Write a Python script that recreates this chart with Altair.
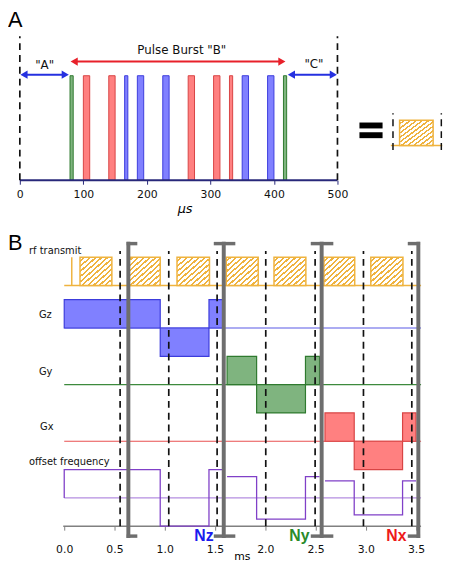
import altair as alt
import pandas as pd

# ---------------- Panel A data (time in microseconds) ----------------
pulse_start = [79, 100, 140, 165, 185, 225, 265, 305, 330, 350, 390, 415]
pulse_end = [84, 110, 150, 170, 195, 235, 275, 315, 335, 360, 400, 420]
pulse_axis = ["y", "x", "x", "z", "z", "z", "x", "x", "x", "z", "z", "y"]
pulse_amp = 1.0
a_ticks = [0, 100, 200, 300, 400, 500]
a_bounds = [0, 500]
arrow_names = ['"A"', 'Pulse Burst "B"', '"C"']
arrow_from = [0, 79, 421]
arrow_to = [78, 419, 500]
arrow_level = [1.01, 1.135, 1.01]
arrow_label_x = [39, 255, 463]
arrow_label_y = [1.10, 1.245, 1.11]

# ---------------- Panel B data (time in milliseconds) ----------------
b_ticks = [0.0, 0.5, 1.0, 1.5, 2.0, 2.5, 3.0, 3.5]
rf_start = [0.157, 0.638, 1.122, 1.612, 2.087, 2.584, 3.05]
rf_end = [0.474, 0.955, 1.445, 1.93, 2.404, 2.89, 3.37]
rf_spike = [0.075]
dashed_t = [0.556, 1.04, 1.521, 2.005, 2.496, 2.977, 3.458]
bracket_t = [0.638, 1.587, 2.561, 3.523]
bracket_cap_l = [0.638, 1.505, 2.47, 3.435]
bracket_cap_r = [0.71, 1.685, 2.66, 3.523]
trace_names = ["rf transmit", "Gz", "Gy", "Gx", "offset frequency"]
trace_base = [8.5, 7.0, 5.0, 3.0, 1.0]
grad_axis = ["z", "z", "z", "y", "y", "y", "x", "x", "x"]
grad_start = [0.0, 0.955, 1.44, 1.62, 1.914, 2.40, 2.594, 2.885, 3.366]
grad_end = [0.955, 1.44, 1.577, 1.914, 2.40, 2.54, 2.885, 3.366, 3.50]
grad_sign = [1, -1, 1, 1, -1, 1, 1, -1, 1]
off_seg = [0, 0, 0, 0, 0, 1, 1, 1, 1, 2, 2, 2, 2]
off_t = [0.0, 0.0, 0.955, 1.44, 1.577, 1.62, 1.914, 2.40, 2.54, 2.594, 2.885, 3.366, 3.50]
off_level = [0.0, 1.0, -1.0, 1.0, 1.0, 0.75, -0.75, 0.75, 0.75, 0.6, -0.6, 0.6, 0.6]
n_labels = ["Nz", "Ny", "Nx"]
n_t = [1.39, 2.339, 3.304]

COL = {"x": "#ff8080", "y": "#7fb47f", "z": "#8080ff"}
EDGE = {"x": "#d84444", "y": "#2f7a2f", "z": "#3c3cdc"}
BASE = {"x": "#e85050", "y": "#3d8a3d", "z": "#5a5ae6"}
NCOL = {"Nz": "#1a1aee", "Ny": "#2a8a2a", "Nx": "#ee1a1a"}
ORANGE = "#efb33f"
FONT = "DejaVu Sans"
HFONT = "Liberation Sans"
DASH = [7, 5]

# hatch fill as a striped linear gradient
stops = []
N = 11
for i in range(N):
    a = i / N
    b = (i + 0.6) / N
    c = (i + 1) / N
    stops += [alt.GradientStop(color="#ffffff", offset=a),
              alt.GradientStop(color="#ffffff", offset=b),
              alt.GradientStop(color=ORANGE, offset=b),
              alt.GradientStop(color=ORANGE, offset=c)]
HATCH = alt.LinearGradient(gradient="linear", stops=stops, x1=0, y1=0, x2=1, y2=1)

# ======================= Panel A =======================
XA = alt.Scale(domain=[-18.63, 664.6], nice=False, zero=False)
YA = alt.Scale(domain=[0, 1.604], nice=False, zero=False)
AXA = alt.Axis(values=a_ticks, domain=False, tickColor="#28287a", tickSize=4,
               labelFont=FONT, labelFontSize=11, labelColor="#111", labelPadding=4,
               title="μs", titleFont=FONT, titleFontSize=13, titleFontWeight="normal",
               titleFontStyle="italic", titleX=179, titleY=29, titleBaseline="middle",
               titleAlign="center", grid=False)


def xa(f):
    return alt.X(f, type="quantitative", scale=XA, axis=AXA)


def ya(f):
    return alt.Y(f, type="quantitative", scale=YA, axis=None)


pulses = pd.DataFrame({"s": pulse_start, "e": pulse_end, "ax": pulse_axis,
                       "b": 0.0, "top": pulse_amp})
pulses["fill"] = pulses["ax"].map(COL)
pulses["edge"] = pulses["ax"].map(EDGE)
pulse_layer = alt.Chart(pulses).mark_rect(strokeWidth=1).encode(
    x=xa("s"), x2="e", y=ya("b"), y2="top",
    fill=alt.Fill("fill:N", scale=None), stroke=alt.Stroke("edge:N", scale=None))

base_a = alt.Chart(pd.DataFrame({"s": [a_bounds[0]], "e": [a_bounds[1]], "b": [0.0]})).mark_rule(
    color="#28287a", strokeWidth=2).encode(x=xa("s"), x2="e", y=ya("b"))

dash_a = alt.Chart(pd.DataFrame({"t": a_bounds, "b": 0.0, "top": 1.377})).mark_rule(
    color="#111", strokeWidth=1.7, strokeDash=DASH).encode(x=xa("t"), y=ya("b"), y2="top")

arrows = pd.DataFrame({"name": arrow_names, "s": arrow_from, "e": arrow_to, "lv": arrow_level,
                       "lx": arrow_label_x, "ly": arrow_label_y})
arrows["col"] = ["#2530e0", "#e8202a", "#2530e0"]
arrows["hs"] = arrows["s"] + 6.5
arrows["he"] = arrows["e"] - 6.5
shaft = alt.Chart(arrows).mark_rule(strokeWidth=2).encode(
    x=xa("hs"), x2="he", y=ya("lv"), color=alt.Color("col:N", scale=None))
head_l = alt.Chart(arrows).mark_point(shape="triangle-left", filled=True, size=70, opacity=1).encode(
    x=xa("hs"), y=ya("lv"), color=alt.Color("col:N", scale=None))
head_r = alt.Chart(arrows).mark_point(shape="triangle-right", filled=True, size=70, opacity=1).encode(
    x=xa("he"), y=ya("lv"), color=alt.Color("col:N", scale=None))
arrow_text = alt.Chart(arrows).mark_text(font=FONT, fontSize=12, color="#111", baseline="middle").encode(
    x=xa("lx"), y=ya("ly"), text="name:N")

eq = alt.Chart(pd.DataFrame({"s": [534.6, 534.6], "e": [571.0, 571.0], "lv": [0.524, 0.431]})).mark_rule(
    color="#000", strokeWidth=6).encode(x=xa("s"), x2="e", y=ya("lv"))
mini_base = alt.Chart(pd.DataFrame({"s": [584.0], "e": [665.0], "lv": [0.333]})).mark_rule(
    color=ORANGE, strokeWidth=1.5).encode(x=xa("s"), x2="e", y=ya("lv"))
mini_box = alt.Chart(pd.DataFrame({"s": [597.8], "e": [650.6], "b": [0.333], "top": [0.573]})).mark_rect(
    fill=HATCH, stroke=ORANGE, strokeWidth=1.5).encode(x=xa("s"), x2="e", y=ya("b"), y2="top")
mini_dash = alt.Chart(pd.DataFrame({"t": [587.4, 663.5], "b": 0.29, "top": 0.64})).mark_rule(
    color="#111", strokeWidth=1.5, strokeDash=DASH).encode(x=xa("t"), y=ya("b"), y2="top")

label_a = alt.Chart(pd.DataFrame({"t": [-18.6], "lv": [1.535], "txt": ["A"]})).mark_text(
    font=HFONT, fontSize=22, align="left", baseline="middle", color="#000").encode(
    x=xa("t"), y=ya("lv"), text="txt:N")

panel_a = alt.layer(pulse_layer, base_a, dash_a, shaft, head_l, head_r, arrow_text,
                    eq, mini_base, mini_box, mini_dash, label_a).properties(width=440, height=170)

# ======================= Panel B =======================
XB = alt.Scale(domain=[-0.5594, 3.7586], nice=False, zero=False)
YB = alt.Scale(domain=[0, 10.44], nice=False, zero=False)
AXB = alt.Axis(values=b_ticks, format=".1f", domain=False, tickColor="#808080", tickSize=4,
               labelFont=FONT, labelFontSize=11, labelColor="#111", labelPadding=14,
               title="ms", titleFont=FONT, titleFontSize=11, titleFontWeight="normal",
               titleX=237, titleY=31, titleBaseline="middle", titleAlign="center", grid=False)


def xb(f):
    return alt.X(f, type="quantitative", scale=XB, axis=AXB)


def yb(f):
    return alt.Y(f, type="quantitative", scale=YB, axis=None)


base_b = alt.Chart(pd.DataFrame({"s": [-0.01], "e": [3.55], "b": [0.0]})).mark_rule(
    color="#808080", strokeWidth=1.5).encode(x=xb("s"), x2="e", y=yb("b"))

rf_base = trace_base[0]
rf_line = alt.Chart(pd.DataFrame({"s": [0.0], "e": [3.55], "b": [rf_base]})).mark_rule(
    color=ORANGE, strokeWidth=1.5).encode(x=xb("s"), x2="e", y=yb("b"))
rf_df = pd.DataFrame({"s": rf_start, "e": rf_end, "b": rf_base, "top": rf_base + 1.0})
rf_boxes = alt.Chart(rf_df).mark_rect(fill=HATCH, stroke=ORANGE, strokeWidth=1.5).encode(
    x=xb("s"), x2="e", y=yb("b"), y2="top")
rf_sp = alt.Chart(pd.DataFrame({"t": rf_spike, "b": rf_base, "top": rf_base + 1.0})).mark_rule(
    color=ORANGE, strokeWidth=1.5).encode(x=xb("t"), y=yb("b"), y2="top")

gbase = {"z": trace_base[1], "y": trace_base[2], "x": trace_base[3]}
gl = pd.DataFrame({"ax": ["z", "y", "x"]})
gl["b"] = gl["ax"].map(gbase)
gl["s"] = 0.0
gl["e"] = 3.55
gl["col"] = gl["ax"].map(BASE)
g_lines = alt.Chart(gl).mark_rule(strokeWidth=1.2).encode(
    x=xb("s"), x2="e", y=yb("b"), color=alt.Color("col:N", scale=None))

gd = pd.DataFrame({"ax": grad_axis, "s": grad_start, "e": grad_end, "sg": grad_sign})
gd["b"] = gd["ax"].map(gbase)
gd["top"] = gd["b"] + gd["sg"]
gd["fill"] = gd["ax"].map(COL)
gd["edge"] = gd["ax"].map(EDGE)
g_rects = alt.Chart(gd).mark_rect(strokeWidth=1.2).encode(
    x=xb("s"), x2="e", y=yb("b"), y2="top",
    fill=alt.Fill("fill:N", scale=None), stroke=alt.Stroke("edge:N", scale=None))

off_base = trace_base[4]
off_line_base = alt.Chart(pd.DataFrame({"s": [0.0], "e": [3.55], "b": [off_base]})).mark_rule(
    color="#b48ee0", strokeWidth=1.2).encode(x=xb("s"), x2="e", y=yb("b"))
od = pd.DataFrame({"seg": off_seg, "t": off_t, "lv": off_level})
od["v"] = od["lv"] + off_base
od["o"] = range(len(od))
off_step = alt.Chart(od).mark_line(interpolate="step-after", color="#8040c8", strokeWidth=1.3).encode(
    x=xb("t"), y=yb("v"), detail="seg:N", order="o:Q")

dash_b = alt.Chart(pd.DataFrame({"t": dashed_t, "b": 0.0, "top": 9.72})).mark_rule(
    color="#111", strokeWidth=1.7, strokeDash=DASH).encode(x=xb("t"), y=yb("b"), y2="top")

brk = pd.DataFrame({"t": bracket_t, "cl": bracket_cap_l, "cr": bracket_cap_r,
                    "b": -0.35, "top": 9.98})
brk_v = alt.Chart(brk).mark_rule(color="#6e6e6e", strokeWidth=4, strokeCap="square").encode(
    x=xb("t"), y=yb("b"), y2="top")
brk_top = alt.Chart(brk).mark_rule(color="#6e6e6e", strokeWidth=3.5, strokeCap="square").encode(
    x=xb("cl"), x2="cr", y=yb("top"))
brk_bot = alt.Chart(brk).mark_rule(color="#6e6e6e", strokeWidth=3.5, strokeCap="square").encode(
    x=xb("cl"), x2="cr", y=yb("b"))

tl = pd.DataFrame({"txt": trace_names, "t": [-0.35, -0.252, -0.252, -0.24, -0.35],
                   "lv": [9.72, 7.46, 5.43, 3.51, 2.25]})
trace_text = alt.Chart(tl).mark_text(font=FONT, fontSize=10, align="left", baseline="middle",
                                     color="#111").encode(x=xb("t"), y=yb("lv"), text="txt:N")

nl = pd.DataFrame({"txt": n_labels, "t": n_t, "lv": -0.35})
nl["col"] = nl["txt"].map(NCOL)
n_text = alt.Chart(nl).mark_text(font=HFONT, fontSize=16, fontWeight="bold", baseline="middle").encode(
    x=xb("t"), y=yb("lv"), text="txt:N", color=alt.Color("col:N", scale=None))

label_b = alt.Chart(pd.DataFrame({"t": [-0.5594], "lv": [10.0], "txt": ["B"]})).mark_text(
    font=HFONT, fontSize=22, align="left", baseline="middle", color="#000").encode(
    x=xb("t"), y=yb("lv"), text="txt:N")

panel_b = alt.layer(base_b, rf_line, rf_boxes, rf_sp, g_lines, g_rects, off_line_base, off_step,
                    dash_b, brk_v, brk_top, brk_bot, trace_text, n_text, label_b).properties(
    width=440, height=299.7)

chart = alt.vconcat(panel_a, panel_b, spacing=15).resolve_scale(
    x="independent", y="independent").properties(
    padding={"top": -3.2, "left": 0, "right": 0, "bottom": 0}).configure_view(stroke=None)

chart.save("out.html", embed_options={"renderer": "svg", "actions": False})
